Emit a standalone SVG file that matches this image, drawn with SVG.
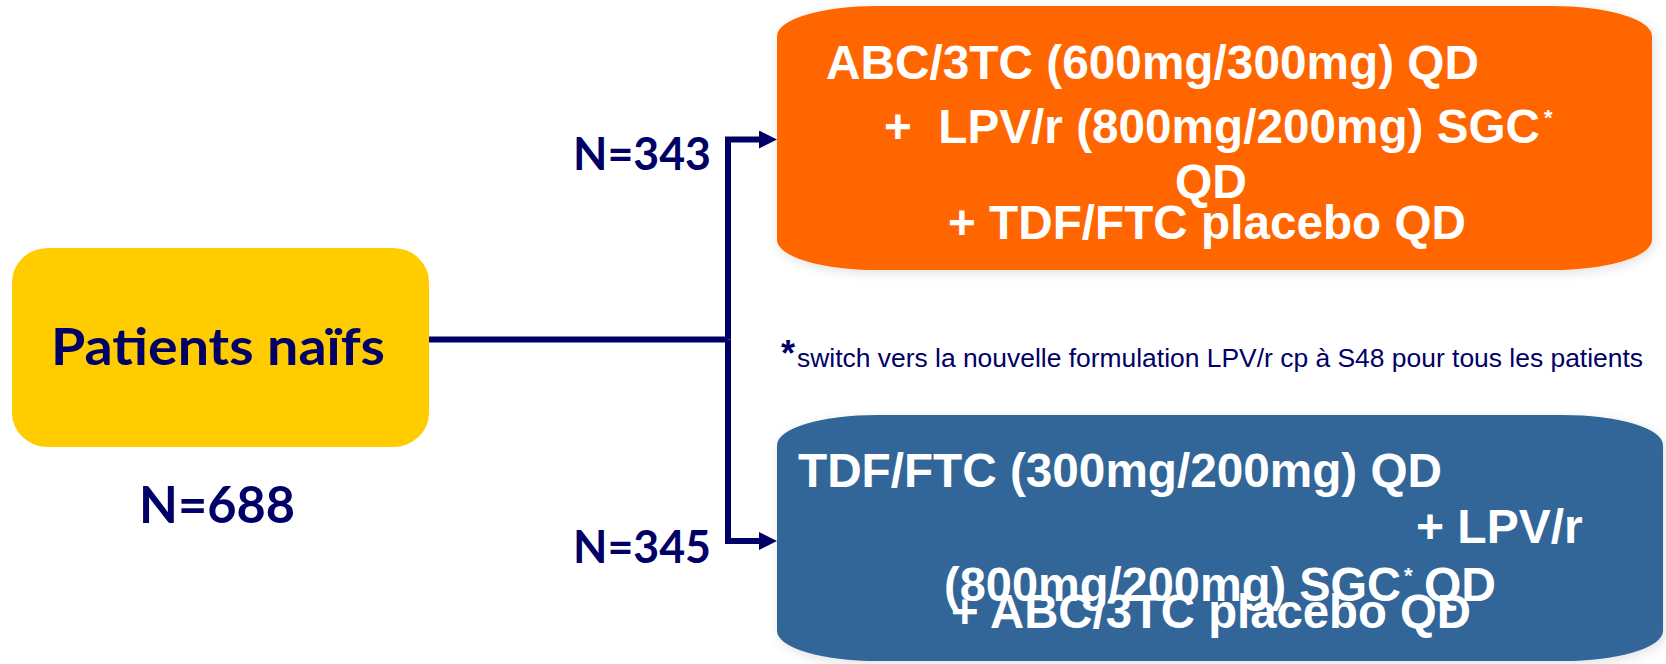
<svg xmlns="http://www.w3.org/2000/svg" width="1666" height="664" viewBox="0 0 1666 664">
<style>
.w{font-family:"Liberation Sans",Arial,sans-serif;font-weight:bold;font-size:48px;fill:#FFFFFF}
.sup{font-family:"Liberation Sans",Arial,sans-serif;font-weight:bold;font-size:22px;fill:#FFFFFF}
.n{font-family:Lato,"Open Sans",sans-serif;font-weight:bold;fill:#000066}
.c{fill:none;stroke:#000066;stroke-width:6}
.fn{font-family:"Liberation Sans",Arial,sans-serif;fill:#000066}
</style>
<defs>
<filter id="sh" x="-10%" y="-10%" width="120%" height="130%">
<feGaussianBlur in="SourceAlpha" stdDeviation="6"/>
<feOffset dx="2" dy="3" result="b"/>
<feComponentTransfer><feFuncA type="linear" slope="0.12"/></feComponentTransfer>
<feMerge><feMergeNode/><feMergeNode in="SourceGraphic"/></feMerge>
</filter>
<marker id="ah" markerUnits="userSpaceOnUse" markerWidth="18" markerHeight="18" viewBox="0 0 18 18" refX="1" refY="9" orient="auto">
<path d="M0,0 L18,9 L0,18 Z" fill="#000066"/>
</marker>
</defs>

<g id="connectors">
<path class="c" d="M429 339.5 H728"/>
<path class="c" d="M728 339.5 V139.5 H760" marker-end="url(#ah)"/>
<path class="c" d="M728 339.5 V541 H760" marker-end="url(#ah)"/>
</g>

<g id="patients">
<rect x="12" y="248" width="417" height="199" rx="36" ry="34" fill="#FFCC00"/>
<text class="n" x="51" y="365" font-size="52" textLength="334" lengthAdjust="spacingAndGlyphs">Patients naïfs</text>
</g>

<g id="n688">
<text class="n" x="139" y="523" font-size="51" textLength="156" lengthAdjust="spacingAndGlyphs">N=688</text>
</g>

<g id="n343">
<text class="n" x="573" y="170" font-size="46" textLength="138" lengthAdjust="spacingAndGlyphs">N=343</text>
</g>

<g id="n345">
<text class="n" x="573" y="563" font-size="46" textLength="138" lengthAdjust="spacingAndGlyphs">N=345</text>
</g>

<g id="arm1">
<path d="M877 6 H1552 A100 30 0 0 1 1652 36 V240 A100 30 0 0 1 1552 270 H877 A100 30 0 0 1 777 240 V36 A100 30 0 0 1 877 6 Z" fill="#FF6600" filter="url(#sh)"/>
<text class="w" x="826" y="79" textLength="653" lengthAdjust="spacingAndGlyphs">ABC/3TC (600mg/300mg) QD</text>
<text class="w" x="884" y="143" xml:space="preserve" textLength="656" lengthAdjust="spacingAndGlyphs">+  LPV/r (800mg/200mg) SGC</text>
<text class="sup" x="1544" y="125">*</text>
<text class="w" x="1175" y="198">QD</text>
<text class="w" x="948" y="239" textLength="518" lengthAdjust="spacingAndGlyphs">+ TDF/FTC placebo QD</text>
</g>

<g id="footnote">
<text class="fn" x="781" y="366" font-size="36" font-weight="bold">*</text>
<text class="fn" x="797" y="367" font-size="25" textLength="846" lengthAdjust="spacingAndGlyphs">switch vers la nouvelle formulation LPV/r cp à S48 pour tous les patients</text>
</g>

<g id="arm2">
<path d="M877 415 H1563 A100 30 0 0 1 1663 445 V631 A100 30 0 0 1 1563 661 H877 A100 30 0 0 1 777 631 V445 A100 30 0 0 1 877 415 Z" fill="#336699" filter="url(#sh)"/>
<text class="w" x="798" y="487" textLength="644" lengthAdjust="spacingAndGlyphs">TDF/FTC (300mg/200mg) QD</text>
<text class="w" x="1416" y="543">+ LPV/r</text>
<text class="w" x="944" y="601" textLength="457" lengthAdjust="spacingAndGlyphs">(800mg/200mg) SGC</text>
<text class="sup" x="1404" y="583">*</text>
<text class="w" x="1424" y="601">QD</text>
<text class="w" x="951" y="628" textLength="520" lengthAdjust="spacingAndGlyphs">+ ABC/3TC placebo QD</text>
</g>
</svg>
